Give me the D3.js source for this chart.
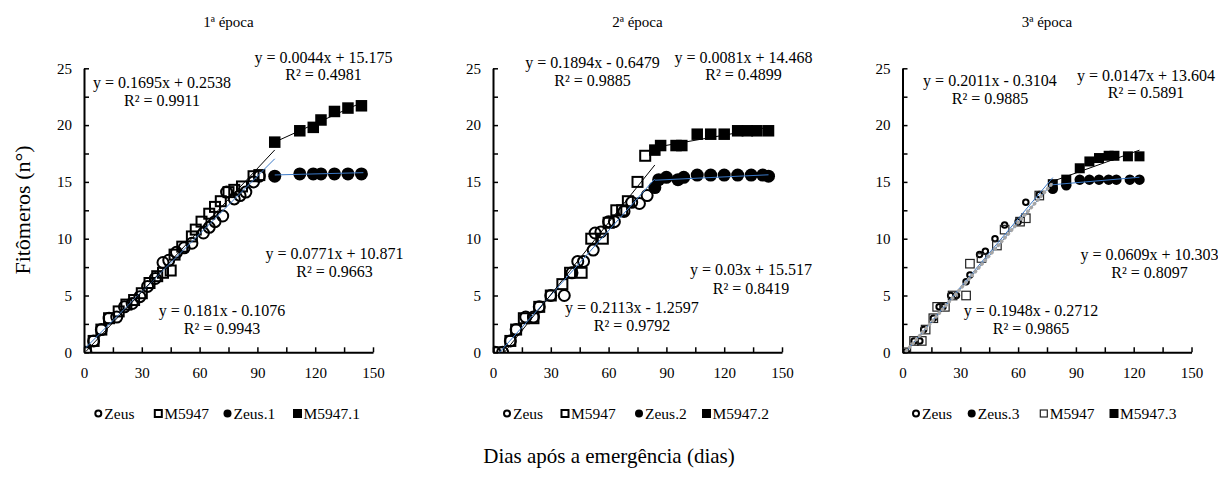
<!DOCTYPE html>
<html>
<head>
  <meta charset="utf-8">
  <script src="https://cdn.jsdelivr.net/npm/d3@7"></script>
  <style>
    body { margin: 0; background: #fff; }
    svg text { font-family: "Liberation Serif", "Times New Roman", Tinos, "DejaVu Serif", "Noto Serif", serif !important; fill: #000; }
  </style>
</head>
<body>
  <svg id="chart" width="1218" height="477"></svg>
  <script>
    let titles = ["1ª época", "2ª época", "3ª época"]
    let xTicks = [0, 30, 60, 90, 120, 150]
    let yTicks = [0, 5, 10, 15, 20, 25]

    // 1ª época
    let zeusDays1 = [1, 5, 9, 13, 17, 21, 25, 29, 33, 37, 41, 44, 48, 52, 56, 62, 65, 68, 72, 74, 78, 81, 84, 88, 91]
    let zeusVals1 = [0, 1, 2, 3, 3.1, 4, 4.3, 4.9, 5.8, 6.5, 7.9, 8.1, 8.8, 9.2, 9.6, 10.5, 11, 11.5, 12, 14.1, 13.5, 13.8, 14.1, 15, 15.5]
    let m5947Days1 = [1, 5, 9, 13, 18, 22, 26, 30, 34, 38, 41, 45, 47, 51, 56, 58, 61, 65, 68, 71, 75, 78, 82, 88, 91]
    let m5947Vals1 = [0, 1, 2, 3, 3.6, 4.2, 4.6, 5.2, 6.1, 6.7, 7, 7.2, 8.6, 9.3, 10.2, 10.8, 11.5, 12.2, 12.8, 13.3, 14.1, 14.3, 14.6, 15.5, 15.6]
    let zeusLateDays1 = [99, 112, 119, 123, 130, 137, 144]
    let zeusLateVals1 = [15.5, 15.7, 15.7, 15.7, 15.7, 15.7, 15.7]
    let m5947LateDays1 = [99, 112, 119, 123, 130, 137, 144]
    let m5947LateVals1 = [18.5, 19.5, 19.8, 20.45, 21.2, 21.5, 21.7]

    // 2ª época
    let zeusDays2 = [1, 5, 9, 12, 17, 21, 24, 30, 37, 41, 44, 47, 52, 53, 56, 60, 63, 68, 72, 76, 80]
    let zeusVals2 = [0, 0, 1, 2, 3.1, 3.1, 4, 5, 5, 7, 8, 8, 9, 10.5, 10.6, 11.5, 11.5, 12.4, 13.2, 13.1, 13.8]
    let m5947Days2 = [3, 9, 12, 16, 21, 24, 30, 36, 40, 46, 51, 57, 60, 64, 67, 70, 75, 79]
    let m5947Vals2 = [0, 1, 2, 3, 3, 4, 5, 6, 7, 7, 10, 10, 11.4, 12.5, 12.5, 13.3, 15, 17.3]
    let zeusLateDays2 = [84, 86, 90, 96, 99, 106, 113, 120, 127, 134, 140, 143]
    let zeusLateVals2 = [14.5, 15.2, 15.4, 15.2, 15.4, 15.6, 15.6, 15.6, 15.6, 15.6, 15.6, 15.5]
    let m5947LateDays2 = [84, 87, 95, 98, 106, 113, 120, 127, 132, 137, 143]
    let m5947LateVals2 = [17.8, 18.2, 18.2, 18.2, 19.2, 19.2, 19.2, 19.5, 19.5, 19.5, 19.5]

    // 3ª época
    let zeusDays3 = [2, 6, 9, 11, 16, 19, 21, 25, 28, 33, 35, 40, 43, 48, 53, 60, 64, 71]
    let zeusVals3 = [0, 1, 1, 2, 3, 4, 4, 5, 5, 6.2, 6.8, 8.6, 8.9, 10, 11.2, 11.5, 13.2, 13.9]
    let m5947Days3 = [2, 6, 10, 12, 16, 18, 22, 26, 33, 35, 41, 49, 53, 61, 64, 71]
    let m5947Vals3 = [0, 1, 1, 2, 3, 4, 4, 5, 5, 7.8, 8.3, 9.4, 10.8, 11.5, 11.8, 13.8]
    let zeusLateDays3 = [78, 85, 92, 97, 102, 107, 111, 118, 123]
    let zeusLateVals3 = [14.4, 14.7, 15.2, 15.2, 15.2, 15.2, 15.2, 15.2, 15.2]
    let m5947LateDays3 = [78, 85, 92, 97, 102, 107, 110, 117, 123]
    let m5947LateVals3 = [14.8, 15.2, 16.2, 16.8, 17.1, 17.3, 17.3, 17.25, 17.25]

    // trend lines: slope, intercept, from day, to day, equation, R²
    let fits1 = [
      [0.1695, 0.2538, 1, 99, "y = 0.1695x + 0.2538", "R² = 0.9911"],
      [0.181, -0.1076, 1, 99, "y = 0.181x - 0.1076", "R² = 0.9943"],
      [0.0044, 15.175, 99, 145, "y = 0.0044x + 15.175", "R² = 0.4981"],
      [0.0771, 10.871, 99, 145, "y = 0.0771x + 10.871", "R² = 0.9663"]
    ]
    let fits2 = [
      [0.1894, -0.6479, 1, 84, "y = 0.1894x - 0.6479", "R² = 0.9885"],
      [0.2113, -1.2597, 1, 84, "y = 0.2113x - 1.2597", "R² = 0.9792"],
      [0.0081, 14.468, 84, 143, "y = 0.0081x + 14.468", "R² = 0.4899"],
      [0.03, 15.517, 84, 143, "y = 0.03x + 15.517", "R² = 0.8419"]
    ]
    let fits3 = [
      [0.2011, -0.3104, 2, 78, "y = 0.2011x - 0.3104", "R² = 0.9885"],
      [0.1948, -0.2712, 2, 78, "y = 0.1948x - 0.2712", "R² = 0.9865"],
      [0.0147, 13.604, 78, 123, "y = 0.0147x + 13.604", "R² = 0.5891"],
      [0.0609, 10.303, 78, 123, "y = 0.0609x + 10.303", "R² = 0.8097"]
    ]

    let legendNames1 = ["Zeus", "M5947", "Zeus.1", "M5947.1"]
    let legendNames2 = ["Zeus", "M5947", "Zeus.2", "M5947.2"]
    let legendNames3 = ["Zeus", "Zeus.3", "M5947", "M5947.3"]

    function makeChart() {
      let svg = d3.select("#chart")

      let panelLeft = [84, 493, 902.5]
      let plotW = 289, top = 68.3, bottom = 352.3
      let blue = "#3a78c6"
      let serif = "'Liberation Serif', 'Times New Roman', Tinos, 'DejaVu Serif', 'Noto Serif', serif"

      let series = [
        [[zeusDays1, zeusVals1], [m5947Days1, m5947Vals1], [zeusLateDays1, zeusLateVals1], [m5947LateDays1, m5947LateVals1]],
        [[zeusDays2, zeusVals2], [m5947Days2, m5947Vals2], [zeusLateDays2, zeusLateVals2], [m5947LateDays2, m5947LateVals2]],
        [[zeusDays3, zeusVals3], [m5947Days3, m5947Vals3], [zeusLateDays3, zeusLateVals3], [m5947LateDays3, m5947LateVals3]]
      ]
      let fits = [fits1, fits2, fits3]
      let legends = [legendNames1, legendNames2, legendNames3]

      // label centres (x, baseline of equation, baseline of R²)
      let labelPos = [
        [[162, 88, 106], [222, 316, 334], [323.5, 63, 80], [334.5, 259, 277]],
        [[592.5, 68, 86], [632, 313, 331], [743.5, 63, 80], [751, 275, 294]],
        [[990, 86, 104], [1031, 316, 334], [1146, 81, 98], [1149.5, 260, 278]]
      ]
      let legendX = [
        [98.3, 158.3, 227.5, 297.5],
        [507, 565, 639, 706.5],
        [916, 971.7, 1043.8, 1114]
      ]
      // marker kind per series: open circle, open square, filled circle, filled square
      let kinds = ["oc", "os", "fc", "fs"]
      let legendKinds = [kinds, kinds, ["oc", "fc", "os", "fs"]]
      let markerSize = [[13, 12, 13, 11.5], [13, 12, 13, 11.5], [7.5, 10.5, 10.5, 10]]

      function drawMarker(g, kind, x, y, size, thin) {
        if (kind[1] == "c") {
          g.append("circle")
           .attr("cx", x).attr("cy", y)
           .attr("r", kind[0] == "o" ? size / 2 - 1 : size / 2)
           .attr("fill", kind[0] == "o" ? "none" : "#000")
           .attr("stroke", kind[0] == "o" ? "#000" : "none")
           .attr("stroke-width", 2)
        } else {
          let s = kind[0] == "o" ? size - 2 : size
          g.append("rect")
           .attr("x", x - s / 2).attr("y", y - s / 2)
           .attr("width", s).attr("height", s)
           .attr("fill", kind[0] == "o" ? "none" : "#000")
           .attr("stroke", kind[0] == "o" ? (thin ? "#222" : "#000") : "none")
           .attr("stroke-width", thin ? 1.2 : 2)
        }
      }

      titles.forEach((t, i) => {
        let scX = d3.scaleLinear().domain([0, 150]).range([panelLeft[i], panelLeft[i] + plotW])
        let scY = d3.scaleLinear().domain([0, 25]).range([bottom, top])
        let g = svg.append("g").attr("font-family", serif)

        g.append("clipPath").attr("id", "clip" + i)
         .append("rect")
         .attr("x", scX(0)).attr("y", scY(25))
         .attr("width", plotW).attr("height", bottom - top)

        g.append("text")
         .attr("x", (scX(0) + scX(150)) / 2).attr("y", 27)
         .attr("text-anchor", "middle")
         .style("font-size", "15px")
         .text(t)

        let xAxis = g.append("g")
         .attr("transform", `translate(0,${bottom})`)
         .call(d3.axisBottom(scX)
           .tickValues(d3.range(0, 151, 15))
           .tickSizeInner(-5).tickSizeOuter(0)
           .tickPadding(15)
           .tickFormat(d => xTicks.includes(d) ? d : ""))
        let yAxis = g.append("g")
         .attr("transform", `translate(${scX(0)},0)`)
         .call(d3.axisLeft(scY)
           .tickValues(d3.range(0, 25.1, 2.5))
           .tickSizeInner(-5).tickSizeOuter(0)
           .tickPadding(12)
           .tickFormat(d => yTicks.includes(d) ? d : ""))
        ;[xAxis, yAxis].forEach(a => {
          a.attr("font-family", serif).attr("font-size", 15)
          a.select(".domain").attr("stroke-width", 2)
          a.selectAll(".tick line").attr("stroke-width", 1.5)
        })

        let plot = g.append("g").attr("clip-path", `url(#clip${i})`)

        series[i].forEach((s, k) => {
          let kind = kinds[k]
          s[0].forEach((d, j) => {
            drawMarker(plot, kind, scX(d), scY(s[1][j]), markerSize[i][k], i == 2 && k == 1)
          })
        })

        let line = d3.line().x(d => scX(d[0])).y(d => scY(d[1]))
        fits[i].forEach((f, k) => {
          let pts = [[f[2], f[0] * f[2] + f[1]], [f[3], f[0] * f[3] + f[1]]]
          let color = k % 2 == 0 ? blue : "#000"
          if (i == 2 && k == 1) color = blue
          plot.append("path")
           .attr("d", line(pts))
           .attr("fill", "none")
           .attr("stroke", color)
           .attr("stroke-width", 1)
          if (i == 2 && k == 1) {
            plot.append("path")
             .attr("d", line(pts))
             .attr("fill", "none")
             .attr("stroke", "#a6a6a6")
             .attr("stroke-width", 3.5)
             .attr("stroke-linecap", "round")
             .attr("stroke-dasharray", "0.5 4.5")
          }

          let p = labelPos[i][k]
          g.append("text").attr("x", p[0]).attr("y", p[1])
           .attr("text-anchor", "middle").style("font-size", "16px")
           .text(f[4])
          g.append("text").attr("x", p[0]).attr("y", p[2])
           .attr("text-anchor", "middle").style("font-size", "16px")
           .text(f[5])
        })

        let lg = g.append("g")
        legends[i].forEach((name, k) => {
          let lx = legendX[i][k]
          drawMarker(lg, legendKinds[i][k], lx, 413.5, legendKinds[i][k][1] == "c" ? 8 : 9, i == 2 && k == 2)
          lg.append("text")
           .attr("x", lx + 6).attr("y", 419)
           .style("font-size", "15.5px")
           .text(name)
        })
      })

      svg.append("text")
         .attr("transform", "translate(30,210) rotate(-90)")
         .attr("text-anchor", "middle")
         .attr("font-family", serif)
         .style("font-size", "22px")
         .text("Fitômeros (n°)")

      svg.append("text")
         .attr("x", 609).attr("y", 463)
         .attr("text-anchor", "middle")
         .attr("font-family", serif)
         .style("font-size", "21px")
         .text("Dias após a emergência (dias)")
    }
    makeChart()
  </script>
</body>
</html>
